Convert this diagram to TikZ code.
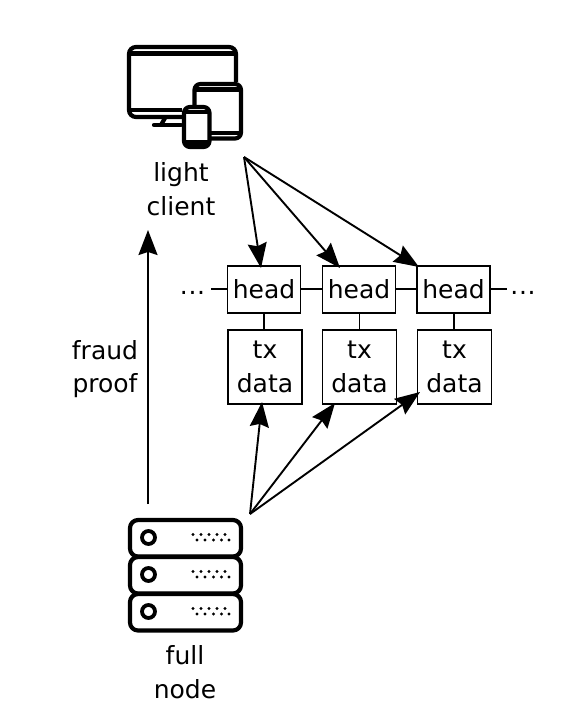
\documentclass[tikz,border=0pt]{standalone}
\usepackage{fontspec}
\setmainfont{DejaVu Sans}
\usetikzlibrary{arrows.meta}
\tikzset{
  blockbox/.style={draw,line width=1.9pt,minimum width=73pt,inner sep=0pt,align=center,font=\fontsize{25}{33.5}\selectfont},
  headbox/.style={blockbox,minimum height=47.5pt},
  databox/.style={blockbox,minimum width=74pt,minimum height=74pt},
  txt/.style={inner sep=0pt,align=center,font=\fontsize{25}{33.5}\selectfont},
  link/.style={line width=1.9pt},
  arr/.style={line width=1.9pt,-{Stealth[length=25pt,width=19pt,inset=3pt]}},
  icon/.style={line width=4.2pt,line join=round},
}
\begin{document}
\begin{tikzpicture}[x=1pt,y=-1pt]
\useasboundingbox (0,0) rectangle (564,712);
% monitor
\draw[icon,rounded corners=7pt] (182,117) -- (129,117) -- (129,47) -- (236,47) -- (236,82);
\draw[icon] (129,53.5) -- (236,53.5);
\draw[icon] (129,110) -- (182,110);
\draw[icon] (165,118) -- (161,125);
\draw[icon,line cap=round] (154,125) -- (181,125);
% tablet
\draw[icon,rounded corners=6pt] (194.5,105) -- (194.5,84) -- (241,84) -- (241,138.5) -- (210,138.5);
\draw[icon] (194.5,89.5) -- (241,89.5) (210,133) -- (241,133);
% phone
\draw[icon,rounded corners=6pt] (184,107) rectangle (209.5,147);
\draw[icon] (184,112) -- (209.5,112) (184,142.5) -- (209.5,142.5);
% server
\foreach \yy in {520,557,594}{
  \draw[icon,rounded corners=8pt] (130,\yy) rectangle (241,\yy+36.5);
  \draw[line width=3.8pt] (148.5,\yy+17.5) circle (6.5pt);
  \foreach \dx in {193,201,209,217,225}{\fill (\dx,\yy+14.5) circle (1.7pt);}
  \foreach \dx in {197,205,213.5,221.5,229}{\fill (\dx,\yy+20) circle (1.7pt);}
}
% blocks
\node[headbox] (h1) at (264,289.5) {head};
\node[headbox] (h2) at (359,289.5) {head};
\node[headbox] (h3) at (453.5,289.5) {head};
\node[databox] (d1) at (265,367) {tx\\data};
\node[databox] (d2) at (359.5,367) {tx\\data};
\node[databox] (d3) at (454.5,367) {tx\\data};
\node[txt] (dl) at (192.5,292.5) {.\kern0.6pt.\kern0.6pt.};
\node[txt] (dr) at (523,292.5) {.\kern0.6pt.\kern0.6pt.};
\coordinate (ll) at (211,289);
\coordinate (lr) at (507,289);
\draw[link] (ll) -- (h1.west |- ll);
\draw[link] (h1.east |- ll) -- (h2.west |- ll);
\draw[link] (h2.east |- ll) -- (h3.west |- ll);
\draw[link] (h3.east |- ll) -- (lr);
\draw[link] (h1.south -| d1) ++(-1,0) -- ++(0,17);
\draw[link] (h2.south -| d2) -- (d2.north);
\draw[link] (h3.south -| d3) ++(-0.5,0) -- ++(0,17);
% labels
\node[txt] (lc) at (181,189) {light\\client};
\node[txt] (fp) at (105,369) {fraud\\proof};
\node[txt] (fn) at (185,672) {full\\node};
\coordinate (ca) at (244,157);
\coordinate (fa) at (250,514);
\coordinate (ub) at (148,504);
\coordinate (ut) at (148,230);
\draw[arr] (ub) -- (ut);
\draw[arr] (ca) -- (261,268);
\draw[arr] (ca) -- (340,268);
\draw[arr] (ca) -- (419,267);
\draw[arr] (fa) -- (262,402);
\draw[arr] (fa) -- (335,403);
\draw[arr] (fa) -- (420,392);
\end{tikzpicture}
\end{document}
